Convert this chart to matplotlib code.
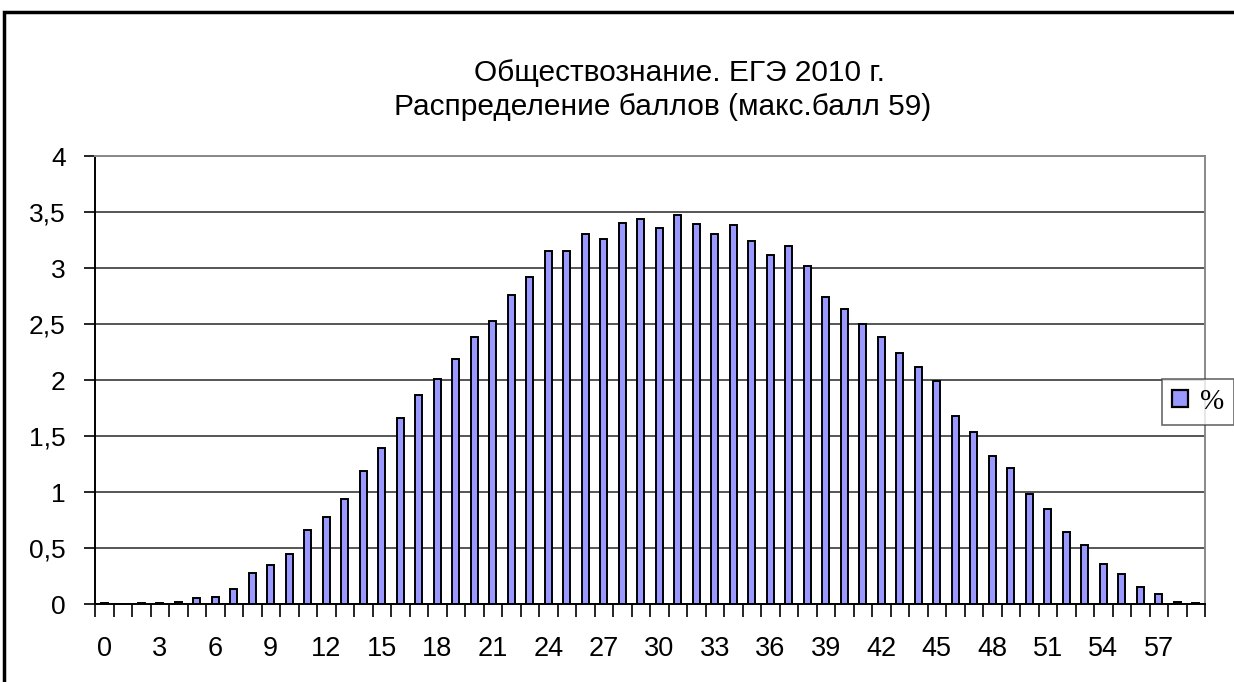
import matplotlib
matplotlib.use("Agg")
import matplotlib.pyplot as plt
from matplotlib.patches import Rectangle, Patch
from matplotlib.ticker import FuncFormatter, FixedLocator

scores = list(range(60))
percent = [0.01, 0.00, 0.01, 0.01, 0.02, 0.05, 0.06, 0.13, 0.28, 0.35,
           0.45, 0.66, 0.78, 0.94, 1.19, 1.39, 1.66, 1.87, 2.01, 2.19,
           2.38, 2.53, 2.76, 2.92, 3.15, 3.15, 3.30, 3.26, 3.40, 3.44,
           3.36, 3.47, 3.39, 3.30, 3.38, 3.24, 3.12, 3.20, 3.02, 2.74,
           2.63, 2.50, 2.38, 2.24, 2.12, 1.99, 1.68, 1.54, 1.32, 1.21,
           0.98, 0.85, 0.64, 0.53, 0.36, 0.27, 0.15, 0.09, 0.02, 0.01]
xtick_labels = [str(v) for v in range(0, 60, 3)]
title_line1 = "Обществознание. ЕГЭ 2010 г."
title_line2 = "Распределение баллов (макс.балл 59)"
legend_label = "%"

W, H = 1234, 682
fig = plt.figure(figsize=(W / 100, H / 100), dpi=100)
fig.patch.set_facecolor("white")

# outer chart frame (cropped on right and bottom)
fig.add_artist(Rectangle((4 / W, -0.05), 1.1, 1 - 12 / H + 0.05, transform=fig.transFigure,
                         fill=False, edgecolor="black", linewidth=2.5))

left, right, top, bottom = 95, 1205, 156, 604
ax = fig.add_axes([left / W, 1 - bottom / H, (right - left) / W, (bottom - top) / H])

bar_color = "#9999FF"
ax.bar(scores, percent, width=0.4, color=bar_color, edgecolor="black", linewidth=1.4, zorder=3)

ax.set_xlim(-0.5, 59.5)
ax.set_ylim(0, 4)
ax.set_yticks([0, 0.5, 1, 1.5, 2, 2.5, 3, 3.5, 4])
ax.yaxis.set_major_formatter(FuncFormatter(lambda v, p: ("%g" % v).replace(".", ",")))
ax.yaxis.grid(True, color="#555555", linewidth=1.4, zorder=0)
ax.set_axisbelow(True)

ax.set_xticks(list(range(0, 60, 3)))
ax.set_xticklabels(xtick_labels)
ax.xaxis.set_minor_locator(FixedLocator([i - 0.5 for i in range(61)]))
ax.tick_params(axis="x", which="major", length=0, pad=23, labelsize=19.5)
ax.tick_params(axis="x", which="minor", length=9, width=1.2, color="black", direction="out")
ax.tick_params(axis="y", which="major", length=8, width=1.2, labelsize=19, pad=13)

for lbl in ax.get_xticklabels() + ax.get_yticklabels():
    lbl.set_fontfamily("Liberation Sans")

ax.spines["left"].set_color("black")
ax.spines["left"].set_linewidth(1.4)
ax.spines["bottom"].set_color("black")
ax.spines["bottom"].set_linewidth(1.4)
ax.spines["top"].set_color("#888888")
ax.spines["top"].set_linewidth(1.4)
ax.spines["right"].set_color("#888888")
ax.spines["right"].set_linewidth(1.4)

fig.text(680 / W, 1 - 81 / H, title_line1, ha="center", va="baseline", fontsize=21.5,
         fontfamily="Liberation Sans")
fig.text(663 / W, 1 - 115 / H, title_line2, ha="center", va="baseline", fontsize=21.5,
         fontfamily="Liberation Sans")

handle = Patch(facecolor=bar_color, edgecolor="black", linewidth=1.6)
leg = fig.legend([handle], [legend_label], loc="center left",
                 bbox_to_anchor=(1162 / W, 1 - 402 / H), frameon=True, fancybox=False,
                 borderaxespad=0,
                 prop={"family": "Liberation Serif", "size": 21},
                 handlelength=0.55, handleheight=0.55, handletextpad=0.4, borderpad=0.35)
leg.get_frame().set_edgecolor("#444444")
leg.get_frame().set_linewidth(1.2)

fig.savefig("out.png", dpi=100)
